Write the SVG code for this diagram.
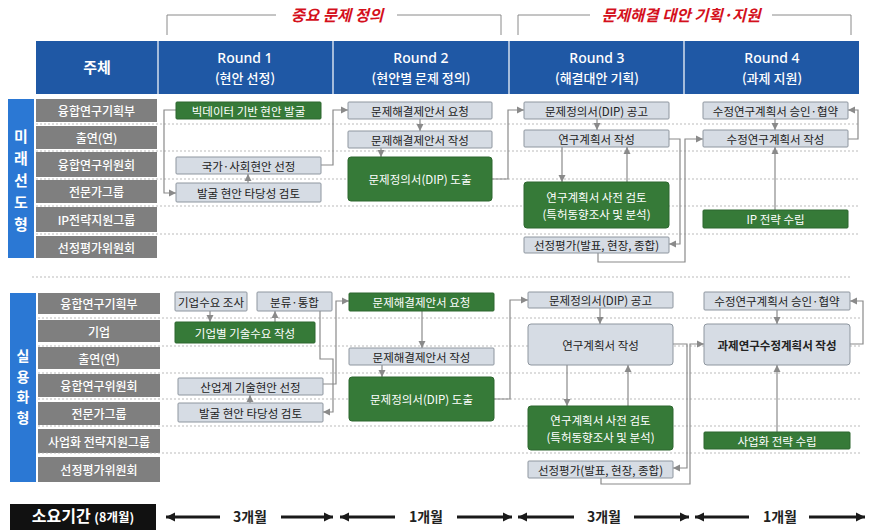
<svg xmlns="http://www.w3.org/2000/svg" width="877" height="532" viewBox="0 0 877 532">
<defs>
<style>
text{font-family:"Noto Sans CJK KR","Noto Sans",sans-serif;}
.hdr{fill:#1f58a5;}
.hsep{stroke:#ffffff;stroke-width:1.2;}
.ht1{fill:#fff;font-size:14px;font-weight:500;text-anchor:middle;font-family:"Noto Sans","Noto Sans CJK KR",sans-serif;}
.ht2{fill:#fff;font-size:13px;font-weight:500;text-anchor:middle;}
.role{fill:#7f7f7f;}
.rt{fill:#fff;font-size:12px;font-weight:500;text-anchor:middle;dominant-baseline:central;}
.vbar{fill:#2b78d4;}
.vt{fill:#fff;font-size:15px;font-weight:700;text-anchor:middle;dominant-baseline:central;}
.vt2{fill:#fff;font-size:14px;font-weight:700;text-anchor:middle;dominant-baseline:central;}
.dash{stroke:#a9a9a9;stroke-width:0.8;stroke-dasharray:2 2;fill:none;}
.g{fill:#d6dce4;stroke:#8e969f;stroke-width:1;}
.gr{fill:#367a38;stroke:#2c672e;stroke-width:1;}
.tg{fill:#222;font-size:11.5px;text-anchor:middle;dominant-baseline:central;}
.tw{fill:#fff;font-size:11.5px;text-anchor:middle;dominant-baseline:central;}
.con{fill:none;stroke:#8a8a8a;stroke-width:1.2;marker-end:url(#ah);}
.brk{fill:none;stroke:#8a8a8a;stroke-width:1;}
.red{fill:#d4101c;font-size:15.5px;font-weight:700;font-style:italic;text-anchor:middle;}
.barrow{stroke:#1a1a1a;stroke-width:3;marker-end:url(#bh);}
.dur{fill:#222;font-size:14px;font-weight:700;text-anchor:middle;dominant-baseline:central;}
</style>
<marker id="ah" markerUnits="userSpaceOnUse" markerWidth="8" markerHeight="8" refX="7" refY="4" orient="auto">
<path d="M0,0.5 L7,4 L0,7.5 z" fill="#8a8a8a"/>
</marker>
<marker id="bh" markerUnits="userSpaceOnUse" markerWidth="10" markerHeight="10" refX="9" refY="5" orient="auto">
<path d="M0,0.5 L9,5 L0,9.5 z" fill="#1a1a1a"/>
</marker>
</defs>
<rect width="877" height="532" fill="#ffffff"/>

<!-- phase brackets -->
<g id="phase1">
<path class="brk" d="M167,35 V15 H276 M397,15 H501 V35"/>
<text class="red" x="337" y="21">중요 문제 정의</text>
</g>
<g id="phase2">
<path class="brk" d="M518,35 V15 H590 M772,15 H851 V35"/>
<text class="red" x="681" y="21">문제해결 대안 기획·지원</text>
</g>

<!-- header -->
<g id="header">
<rect class="hdr" x="36" y="41" width="823" height="53"/>
<line class="hsep" x1="158" y1="41" x2="158" y2="94"/>
<line class="hsep" x1="333" y1="41" x2="333" y2="94"/>
<line class="hsep" x1="509" y1="41" x2="509" y2="94"/>
<line class="hsep" x1="684" y1="41" x2="684" y2="94"/>
<text x="97" y="73" fill="#fff" font-size="15" font-weight="700" text-anchor="middle">주체</text>
<text class="ht1" x="245" y="63">Round 1</text>
<text class="ht2" x="245" y="83">(현안 선정)</text>
<text class="ht1" x="421" y="63">Round 2</text>
<text class="ht2" x="421" y="83">(현안별 문제 정의)</text>
<text class="ht1" x="597" y="63">Round 3</text>
<text class="ht2" x="597" y="83">(해결대안 기획)</text>
<text class="ht1" x="772" y="63">Round 4</text>
<text class="ht2" x="772" y="83">(과제 지원)</text>
</g>

<!-- upper section lanes -->
<g id="lanes-upper">
<rect class="vbar" x="8" y="99" width="26" height="159"/>
<text class="vt" x="21" y="135">미</text>
<text class="vt" x="21" y="157">래</text>
<text class="vt" x="21" y="179">선</text>
<text class="vt" x="21" y="201">도</text>
<text class="vt" x="21" y="223">형</text>
<rect class="role" x="36" y="99" width="121" height="23"/><text class="rt" x="96.5" y="110.5">융합연구기획부</text>
<rect class="role" x="36" y="126" width="121" height="23"/><text class="rt" x="96.5" y="137.5">출연(연)</text>
<rect class="role" x="36" y="152" width="121" height="25"/><text class="rt" x="96.5" y="164.5">융합연구위원회</text>
<rect class="role" x="36" y="180" width="121" height="23"/><text class="rt" x="96.5" y="191.5">전문가그룹</text>
<rect class="role" x="36" y="207" width="121" height="25"/><text class="rt" x="96.5" y="219.5">IP전략지원그룹</text>
<rect class="role" x="36" y="236" width="121" height="22"/><text class="rt" x="96.5" y="247">선정평가위원회</text>
<path class="dash" d="M36,124 H860 M36,151 H860 M36,179 H860 M36,206 H860 M36,234 H860"/>
</g>

<line class="dash" x1="32" y1="277" x2="850" y2="277"/>

<!-- lower section lanes -->
<g id="lanes-lower">
<rect class="vbar" x="10" y="293" width="26" height="189"/>
<text class="vt2" x="23" y="355">실</text>
<text class="vt2" x="23" y="375.5">용</text>
<text class="vt2" x="23" y="396">화</text>
<text class="vt2" x="23" y="416.5">형</text>
<rect class="role" x="38" y="293" width="122" height="21"/><text class="rt" x="99" y="303.5">융합연구기획부</text>
<rect class="role" x="38" y="320" width="122" height="22"/><text class="rt" x="99" y="331">기업</text>
<rect class="role" x="38" y="347" width="122" height="22"/><text class="rt" x="99" y="358">출연(연)</text>
<rect class="role" x="38" y="374" width="122" height="23"/><text class="rt" x="99" y="385.5">융합연구위원회</text>
<rect class="role" x="38" y="402" width="122" height="23"/><text class="rt" x="99" y="413.5">전문가그룹</text>
<rect class="role" x="38" y="429" width="122" height="24"/><text class="rt" x="99" y="441">사업화 전략지원그룹</text>
<rect class="role" x="38" y="457" width="122" height="25"/><text class="rt" x="99" y="469.5">선정평가위원회</text>
<path class="dash" d="M38,318 H862 M38,346 H862 M38,373 H862 M38,399 H862 M38,426 H862 M38,453 H862"/>
</g>

<!-- connectors -->
<g id="connectors">
<path class="con" d="M176,110 H164 V193 H176"/>
<path class="con" d="M248,183 V174"/>
<path class="con" d="M321,165 H333 V110 H348"/>
<path class="con" d="M420,119 V131"/>
<path class="con" d="M381,148 V157"/>
<path class="con" d="M492,179 H508 V110 H524"/>
<path class="con" d="M597,119 V130"/>
<path class="con" d="M562,147 V182"/>
<path class="con" d="M627,182 V147"/>
<path class="con" d="M669,139 H680 V244 H669"/>
<path class="con" d="M598,253 V262 H685 V139 H703"/>
<path class="con" d="M775,119 V130"/>
<path class="con" d="M775,210 V147"/>
<path class="con" d="M848,139 H858 V110 H848"/>

<path class="con" d="M210,311 V322"/>
<path class="con" d="M275,322 V311"/>
<path class="con" d="M320,311 V359 H333 V412 H323"/>
<path class="con" d="M250,403 V395"/>
<path class="con" d="M323,384 H336 V301 H349"/>
<path class="con" d="M422,311 V348"/>
<path class="con" d="M382,365 V377"/>
<path class="con" d="M494,399 H510 V300 H528"/>
<path class="con" d="M600,308 V324"/>
<path class="con" d="M567,365 V406"/>
<path class="con" d="M628,406 V365"/>
<path class="con" d="M673,344 H687 V468 H673"/>
<path class="con" d="M601,478 V484 H690 V344 H704"/>
<path class="con" d="M777,310 V324"/>
<path class="con" d="M777,432 V365"/>
<path class="con" d="M850,344 H863 V301 H850"/>
</g>

<!-- upper nodes -->
<g id="u-bigdata"><rect class="gr" x="176" y="102" width="145" height="17" rx="1"/><text class="tw" x="248.5" y="110.5">빅데이터 기반 현안 발굴</text></g>
<g id="u-select"><rect class="g" x="176" y="157" width="145" height="17" rx="1"/><text class="tg" x="248.5" y="165.5">국가·사회현안 선정</text></g>
<g id="u-review"><rect class="g" x="176" y="183" width="145" height="19" rx="1"/><text class="tg" x="248.5" y="192.5">발굴 현안 타당성 검토</text></g>
<g id="u-request"><rect class="g" x="348" y="102" width="144" height="17" rx="1"/><text class="tg" x="420" y="110.5">문제해결제안서 요청</text></g>
<g id="u-write"><rect class="g" x="348" y="131" width="144" height="17" rx="1"/><text class="tg" x="420" y="139.5">문제해결제안서 작성</text></g>
<g id="u-dip"><rect class="gr" x="348" y="157" width="144" height="44" rx="3"/><text class="tw" x="420" y="179">문제정의서(DIP) 도출</text></g>
<g id="u-notice"><rect class="g" x="524" y="102" width="145" height="17" rx="1"/><text class="tg" x="596.5" y="110.5">문제정의서(DIP) 공고</text></g>
<g id="u-plan"><rect class="g" x="524" y="130" width="145" height="17" rx="1"/><text class="tg" x="596.5" y="138.5">연구계획서 작성</text></g>
<g id="u-prereview"><rect class="gr" x="524" y="182" width="145" height="46" rx="3"/><text class="tw" x="596.5" y="197">연구계획서 사전 검토</text><text class="tw" x="596.5" y="214">(특허동향조사 및 분석)</text></g>
<g id="u-eval"><rect class="g" x="524" y="237" width="145" height="16" rx="1"/><text class="tg" x="596.5" y="245">선정평가(발표, 현장, 종합)</text></g>
<g id="u-approve"><rect class="g" x="703" y="102" width="145" height="17" rx="1"/><text class="tg" x="775.5" y="110.5">수정연구계획서 승인·협약</text></g>
<g id="u-revise"><rect class="g" x="703" y="130" width="145" height="17" rx="1"/><text class="tg" x="775.5" y="138.5">수정연구계획서 작성</text></g>
<g id="u-ip"><rect class="gr" x="703" y="210" width="145" height="18" rx="1"/><text class="tw" x="775.5" y="219">IP 전략 수립</text></g>

<!-- lower nodes -->
<g id="l-survey"><rect class="g" x="175" y="292" width="72" height="19" rx="1"/><text class="tg" x="211" y="301.5">기업수요 조사</text></g>
<g id="l-merge"><rect class="g" x="257" y="292" width="75" height="19" rx="1"/><text class="tg" x="294.5" y="301.5">분류·통합</text></g>
<g id="l-demand"><rect class="gr" x="175" y="322" width="140" height="21" rx="1"/><text class="tw" x="245" y="332.5">기업별 기술수요 작성</text></g>
<g id="l-select"><rect class="g" x="178" y="378" width="145" height="17" rx="1"/><text class="tg" x="250.5" y="386.5">산업계 기술현안 선정</text></g>
<g id="l-review"><rect class="g" x="178" y="403" width="145" height="19" rx="1"/><text class="tg" x="250.5" y="412.5">발굴 현안 타당성 검토</text></g>
<g id="l-request"><rect class="gr" x="349" y="293" width="145" height="18" rx="1"/><text class="tw" x="421.5" y="302">문제해결제안서 요청</text></g>
<g id="l-write"><rect class="g" x="349" y="348" width="145" height="17" rx="1"/><text class="tg" x="421.5" y="356.5">문제해결제안서 작성</text></g>
<g id="l-dip"><rect class="gr" x="349" y="377" width="145" height="44" rx="3"/><text class="tw" x="421.5" y="399">문제정의서(DIP) 도출</text></g>
<g id="l-notice"><rect class="g" x="528" y="292" width="145" height="16" rx="1"/><text class="tg" x="600.5" y="300">문제정의서(DIP) 공고</text></g>
<g id="l-plan"><rect class="g" x="528" y="324" width="145" height="41" rx="3"/><text class="tg" x="600.5" y="344.5">연구계획서 작성</text></g>
<g id="l-prereview"><rect class="gr" x="528" y="406" width="145" height="44" rx="3"/><text class="tw" x="600.5" y="420">연구계획서 사전 검토</text><text class="tw" x="600.5" y="437">(특허동향조사 및 분석)</text></g>
<g id="l-eval"><rect class="g" x="528" y="461" width="145" height="17" rx="1"/><text class="tg" x="600.5" y="469.5">선정평가(발표, 현장, 종합)</text></g>
<g id="l-approve"><rect class="g" x="704" y="292" width="146" height="18" rx="1"/><text class="tg" x="777" y="301">수정연구계획서 승인·협약</text></g>
<g id="l-revise"><rect class="g" x="704" y="324" width="146" height="41" rx="3"/><text class="tg" x="777" y="344.5" font-weight="700">과제연구수정계획서 작성</text></g>
<g id="l-biz"><rect class="gr" x="704" y="432" width="146" height="17" rx="1"/><text class="tw" x="777" y="440.5">사업화 전략 수립</text></g>

<!-- duration bar -->
<g id="duration">
<rect x="10" y="504" width="146" height="26" fill="#111111"/>
<text x="83" y="522" fill="#fff" font-weight="700" text-anchor="middle"><tspan font-size="16">소요기간 </tspan><tspan font-size="12.5">(8개월)</tspan></text>
<line class="barrow" x1="220" y1="517" x2="166" y2="517"/>
<text class="dur" x="250" y="516">3개월</text>
<line class="barrow" x1="281" y1="517" x2="333" y2="517"/>
<line class="barrow" x1="395" y1="517" x2="340" y2="517"/>
<text class="dur" x="426" y="516">1개월</text>
<line class="barrow" x1="457" y1="517" x2="512" y2="517"/>
<line class="barrow" x1="574" y1="517" x2="518" y2="517"/>
<text class="dur" x="604" y="516">3개월</text>
<line class="barrow" x1="634" y1="517" x2="689" y2="517"/>
<line class="barrow" x1="749" y1="517" x2="695" y2="517"/>
<text class="dur" x="780" y="516">1개월</text>
<line class="barrow" x1="809" y1="517" x2="865" y2="517"/>
</g>
</svg>
